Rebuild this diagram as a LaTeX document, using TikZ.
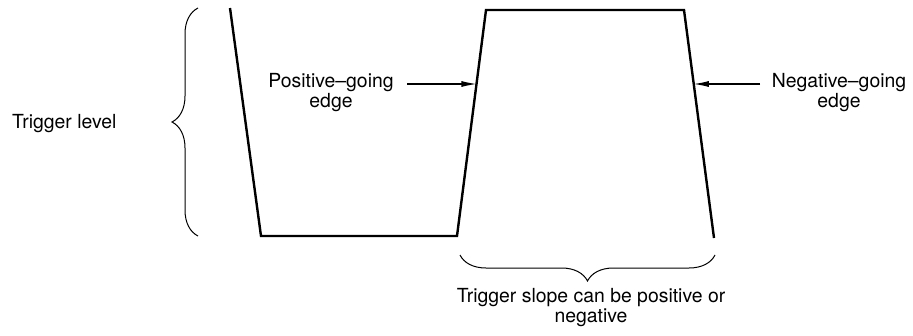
\documentclass[tikz,border=0pt]{standalone}
\usepackage{fontspec}
\setmainfont{TeX Gyre Heros}
\usetikzlibrary{positioning, arrows.meta, calc, decorations.pathreplacing}

\begin{document}
\begin{tikzpicture}[
    x=1pt, y=-1pt,
    wave/.style={line width=2.4pt, line join=miter},
    bracket/.style={
        draw,
        line width=1pt,
        decorate,
        decoration={brace, amplitude=#1}
    },
    bracket/.default=26pt,
    pointer/.style={-{Latex[length=15pt, width=6pt]}, line width=1.1pt},
    lbl/.style={font=\fontsize{19.4}{20}\selectfont, align=center, inner sep=0pt}
]
\useasboundingbox (0,0) rectangle (913,335);

% === Waveform ===
\coordinate (w0) at (230,8);
\coordinate (w1) at (261,236);
\coordinate (w2) at (457,236);
\coordinate (w3) at (486,10);
\coordinate (w4) at (684,10);
\coordinate (w5) at (714,238);
\draw[wave] (w0) -- (w1) -- (w2) -- (w3) -- (w4) -- (w5);

% === Trigger level ===
\draw[bracket] (198,236) -- (198,8);
\node[lbl, anchor=west] (level) at (12,124) {Trigger level};

% === Edges ===
\node[lbl] (posedge) at (331,93) {Positive--going\\edge};
\node[lbl] (negedge) at (839,93) {Negative--going\\edge};
\coordinate (postip) at ($(w2)!0.672!(w3)$);
\coordinate (negtip) at ($(w4)!0.325!(w5)$);
\coordinate (posfrom) at (407,84);
\coordinate (negfrom) at (760,84);
\draw[pointer] (posfrom) -- (postip |- posfrom);
\draw[pointer] (negfrom) -- (negtip |- negfrom);

% === Trigger slope ===
\draw[bracket] (715,255) -- (460,255);
\coordinate (slopetip) at (591,283);
\node[lbl, below=5pt of slopetip] (slope) {Trigger slope can be positive or\\negative};

\end{tikzpicture}
\end{document}
